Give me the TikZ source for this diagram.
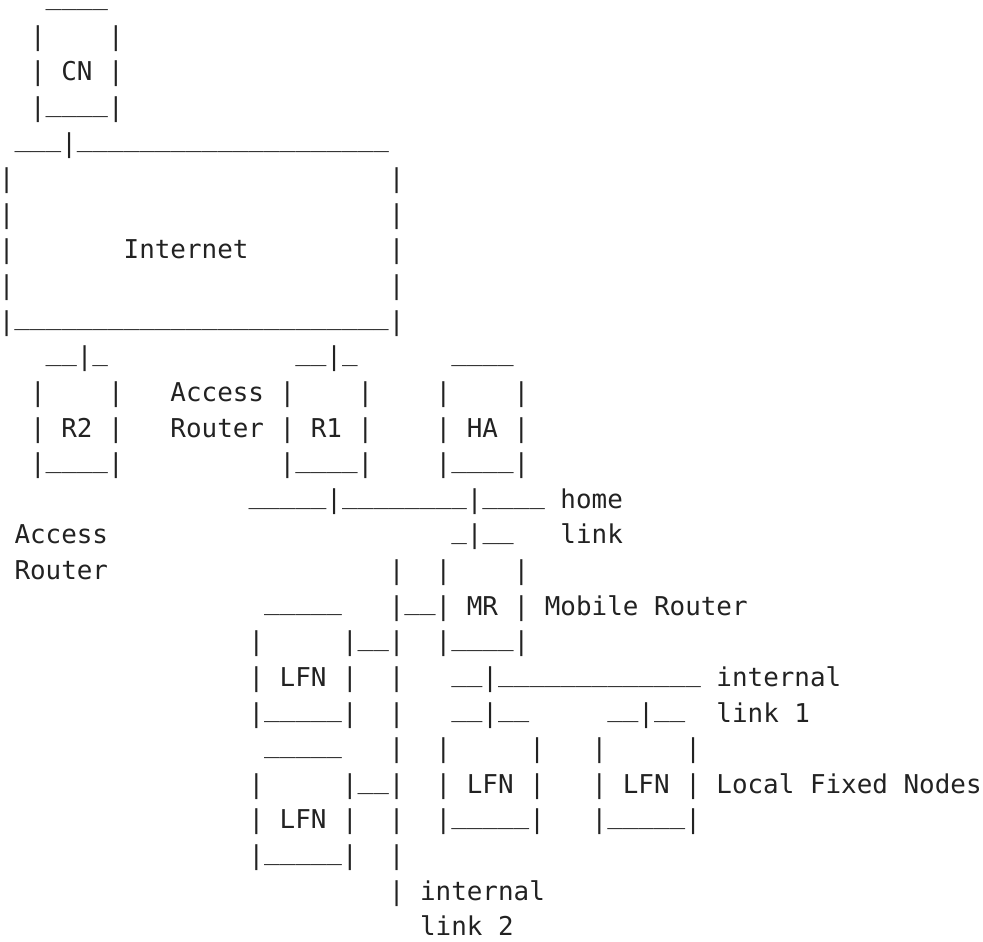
\documentclass[tikz,border=0pt]{standalone}
\usepackage{fontspec}
\usepackage{tikz}
\newfontfamily\asciifont{DejaVu Sans Mono}
\definecolor{ink}{HTML}{222222}
{\catcode`\_=\active \gdef_{\raisebox{0.2em}{\char95}}}
\tikzset{
  asciirow/.style={anchor=base west, inner sep=0pt, outer sep=0pt, text=ink,
    font=\asciifont\fontsize{25.91pt}{35.6pt}\selectfont}
}
\begin{document}
\catcode`\_=\active
\begin{tikzpicture}[x=15.6pt, y=-35.625pt]
\useasboundingbox (1.1pt,9.5pt) rectangle (984.1pt,-932.5pt);
% CN
\node[asciirow] (r0) at (3,0) {____};
\node[asciirow] (r1) at (2,1) {|~~~~|};
\node[asciirow] (r2) at (2,2) {|~CN~|};
\node[asciirow] (r3) at (2,3) {|____|};
% Internet
\node[asciirow] (r4) at (1,4) {___|____________________};
\node[asciirow] (r5) at (0,5) {|~~~~~~~~~~~~~~~~~~~~~~~~|};
\node[asciirow] (r6) at (0,6) {|~~~~~~~~~~~~~~~~~~~~~~~~|};
\node[asciirow] (r7) at (0,7) {|~~~~~~~Internet~~~~~~~~~|};
\node[asciirow] (r8) at (0,8) {|~~~~~~~~~~~~~~~~~~~~~~~~|};
\node[asciirow] (r9) at (0,9) {|________________________|};
% R2, R1, HA
\node[asciirow] (r10) at (3,10) {__|_~~~~~~~~~~~~__|_~~~~~~____};
\node[asciirow] (r11) at (2,11) {|~~~~|~~~Access~|~~~~|~~~~|~~~~|};
\node[asciirow] (r12) at (2,12) {|~R2~|~~~Router~|~R1~|~~~~|~HA~|};
\node[asciirow] (r13) at (2,13) {|____|~~~~~~~~~~|____|~~~~|____|};
% home link
\node[asciirow] (r14) at (16,14) {_____|________|____~home};
\node[asciirow] (r15a) at (1,15) {Access};
\node[asciirow] (r15b) at (29,15) {_|__~~~link};
\node[asciirow] (r16a) at (1,16) {Router};
\node[asciirow] (r16b) at (25,16) {|~~|~~~~|};
% MR and LFNs
\node[asciirow] (r17) at (17,17) {_____~~~|__|~MR~|~Mobile~Router};
\node[asciirow] (r18) at (16,18) {|~~~~~|__|~~|____|};
\node[asciirow] (r19) at (16,19) {|~LFN~|~~|~~~__|_____________~internal};
\node[asciirow] (r20) at (16,20) {|_____|~~|~~~__|__~~~~~__|__~~link~1};
\node[asciirow] (r21) at (17,21) {_____~~~|~~|~~~~~|~~~|~~~~~|};
\node[asciirow] (r22) at (16,22) {|~~~~~|__|~~|~LFN~|~~~|~LFN~|~Local~Fixed~Nodes};
\node[asciirow] (r23) at (16,23) {|~LFN~|~~|~~|_____|~~~|_____|};
\node[asciirow] (r24) at (16,24) {|_____|~~|};
\node[asciirow] (r25) at (25,25) {|~internal};
\node[asciirow] (r26) at (27,26) {link~2};
\end{tikzpicture}
\end{document}
